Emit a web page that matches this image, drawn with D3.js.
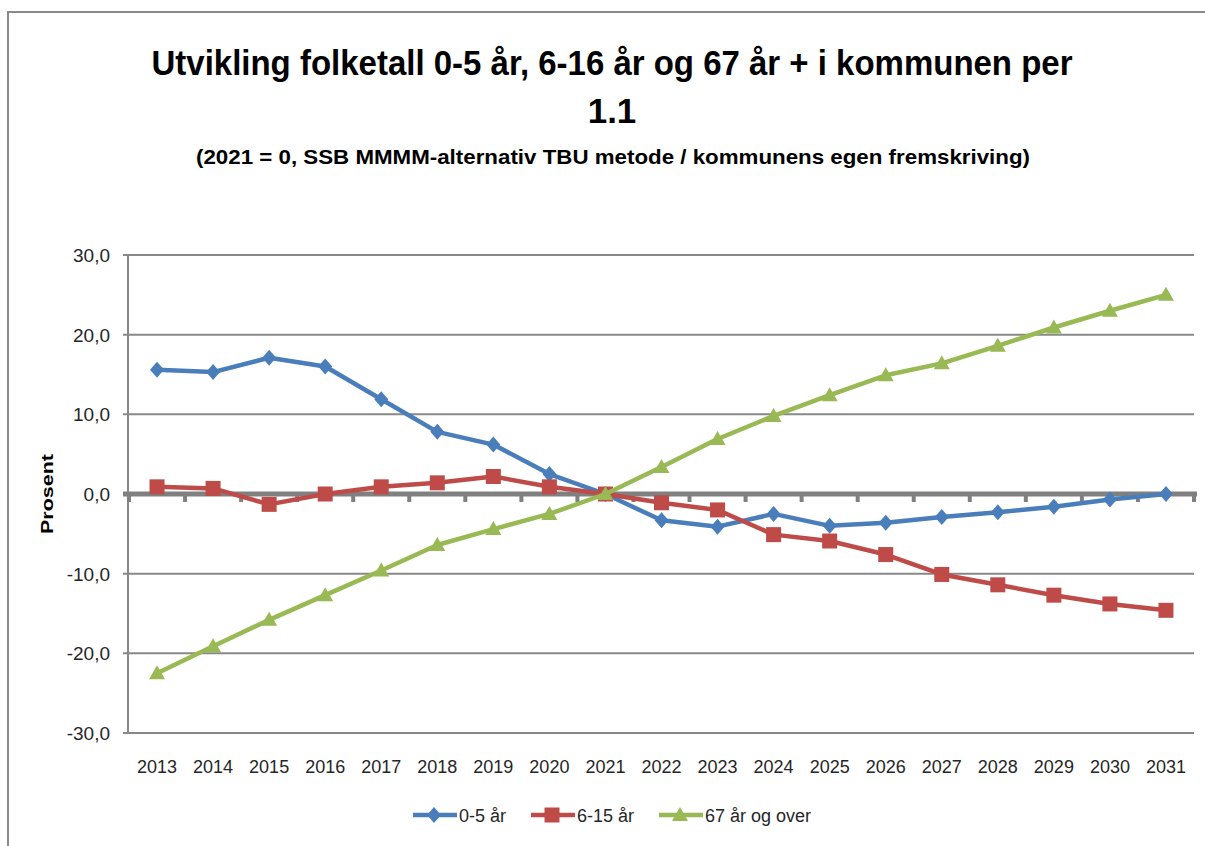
<!DOCTYPE html>
<html>
<head>
<meta charset="utf-8">
<script src="https://cdn.jsdelivr.net/npm/d3@7"></script>
<style>
  body { margin: 0; background: #fff; }
  svg { display: block; }
  text { font-family: "Liberation Sans", Arial, sans-serif; fill: #262626; }
</style>
</head>
<body>
<div id="chart"></div>
<script>
// data
var years = ["2013","2014","2015","2016","2017","2018","2019","2020","2021","2022",
             "2023","2024","2025","2026","2027","2028","2029","2030","2031"];
var age0_5 = [15.6, 15.3, 17.1, 16.0, 11.9, 7.8, 6.2, 2.5, 0.0, -3.3,
              -4.1, -2.5, -4.0, -3.6, -2.9, -2.3, -1.6, -0.7, 0.0];
var age6_15 = [0.9, 0.7, -1.3, 0.0, 0.9, 1.4, 2.2, 0.9, 0.0, -1.1,
               -2.0, -5.1, -5.9, -7.6, -10.1, -11.4, -12.7, -13.8, -14.6];
var age67 = [-22.5, -19.1, -15.8, -12.7, -9.6, -6.4, -4.4, -2.5, 0.0, 3.4,
             6.9, 9.8, 12.4, 14.9, 16.4, 18.6, 20.9, 23.0, 25.0];
var yTicks = [-30, -20, -10, 0, 10, 20, 30];

var series = [
  {name: "0-5 år", values: age0_5, color: "#4a7ebb", marker: "diamond"},
  {name: "6-15 år", values: age6_15, color: "#be4b48", marker: "square"},
  {name: "67 år og over", values: age67, color: "#98b954", marker: "triangle"}
];

var W = 1205, H = 846;
var svg = d3.select("#chart").append("svg")
    .attr("width", W)
    .attr("height", H);

// outer chart border (only top and left visible in the crop)
svg.append("path")
    .attr("d", "M8,846 L8,12 L1205,12")
    .attr("fill", "none")
    .attr("stroke", "#8a8a8a")
    .attr("stroke-width", 2);

// titles
svg.append("text")
    .attr("x", 612).attr("y", 75)
    .attr("text-anchor", "middle")
    .attr("font-family", "'Liberation Sans Narrow', 'Liberation Sans', sans-serif")
    .attr("font-weight", "bold")
    .attr("font-size", 35)
    .attr("textLength", 921)
    .attr("lengthAdjust", "spacingAndGlyphs")
    .style("fill", "#000")
    .text("Utvikling folketall 0-5 år, 6-16 år og 67 år + i kommunen per");
svg.append("text")
    .attr("x", 612).attr("y", 123)
    .attr("text-anchor", "middle")
    .attr("font-weight", "bold")
    .attr("font-size", 35)
    .style("fill", "#000")
    .text("1.1");
svg.append("text")
    .attr("x", 613).attr("y", 164)
    .attr("text-anchor", "middle")
    .attr("font-family", "'Liberation Sans Narrow', 'Liberation Sans', sans-serif")
    .attr("font-weight", "bold")
    .attr("font-size", 21)
    .attr("textLength", 834)
    .attr("lengthAdjust", "spacingAndGlyphs")
    .style("fill", "#000")
    .text("(2021 = 0, SSB MMMM-alternativ TBU metode / kommunens egen fremskriving)");

// scales
var x = d3.scalePoint()
    .domain(years)
    .range([129, 1194])
    .padding(0.5);
var y = d3.scaleLinear()
    .domain([-30, 30])
    .range([733, 255]);

var left = 129, right = 1194;
var step = x.step();

// gridlines
svg.append("g").selectAll("line")
    .data(yTicks.filter(function(d) { return d != 0; }))
  .enter().append("line")
    .attr("x1", left - 6).attr("x2", right)
    .attr("y1", function(d) { return y(d); })
    .attr("y2", function(d) { return y(d); })
    .attr("stroke", "#888")
    .attr("stroke-width", 2);

// y axis line
svg.append("line")
    .attr("x1", left - 1).attr("x2", left - 1)
    .attr("y1", y(30)).attr("y2", y(-30))
    .attr("stroke", "#888")
    .attr("stroke-width", 2);

// y tick labels (hyphen minus, comma decimal)
svg.append("g").selectAll("text")
    .data(yTicks)
  .enter().append("text")
    .attr("x", 110)
    .attr("y", function(d) { return y(d) + 7; })
    .attr("text-anchor", "end")
    .attr("font-size", 19)
    .text(function(d) { return d.toFixed(1).replace(".", ","); });

// y axis title
svg.append("text")
    .attr("transform", "translate(53," + y(0) + ") rotate(-90)")
    .attr("text-anchor", "middle")
    .attr("font-weight", "bold")
    .attr("font-size", 17)
    .attr("textLength", 80)
    .attr("lengthAdjust", "spacingAndGlyphs")
    .style("fill", "#000")
    .text("Prosent");

// zero axis (category axis crossing at 0)
var boundaries = d3.range(years.length + 1).map(function(i) { return left + i * step; });
svg.append("g").selectAll("line")
    .data(boundaries)
  .enter().append("line")
    .attr("x1", function(d) { return d; })
    .attr("x2", function(d) { return d; })
    .attr("y1", y(0))
    .attr("y2", y(0) + 8)
    .attr("stroke", "#808080")
    .attr("stroke-width", 4);
svg.append("line")
    .attr("x1", left - 6).attr("x2", right + 3)
    .attr("y1", y(0)).attr("y2", y(0))
    .attr("stroke", "#808080")
    .attr("stroke-width", 5);

// x labels
svg.append("g").selectAll("text")
    .data(years)
  .enter().append("text")
    .attr("x", function(d) { return x(d); })
    .attr("y", 773)
    .attr("text-anchor", "middle")
    .attr("font-size", 18)
    .text(function(d) { return d; });

// marker shapes
function markerPath(type) {
  if (type == "diamond") return "M0,-8 L7,0 L0,8 L-7,0 Z";
  if (type == "square") return "M-7.5,-7.5 L7.5,-7.5 L7.5,7.5 L-7.5,7.5 Z";
  return "M0,-8 L8,6 L-8,6 Z";
}

var line = d3.line()
    .x(function(d, i) { return x(years[i]); })
    .y(function(d) { return y(d); });

series.forEach(function(s) {
  var g = svg.append("g");
  g.append("path")
      .datum(s.values)
      .attr("d", line)
      .attr("fill", "none")
      .attr("stroke", s.color)
      .attr("stroke-width", 4.5)
      .attr("stroke-linejoin", "round");
  g.selectAll(".mark")
      .data(s.values)
    .enter().append("path")
      .attr("class", "mark")
      .attr("transform", function(d, i) { return "translate(" + x(years[i]) + "," + y(d) + ")"; })
      .attr("d", markerPath(s.marker))
      .attr("fill", s.color);
});

// legend
var legendPos = [413, 531, 659];
var legend = svg.append("g").selectAll("g")
    .data(series)
  .enter().append("g")
    .attr("transform", function(d, i) { return "translate(" + legendPos[i] + ",815)"; });
legend.append("line")
    .attr("x1", 0).attr("x2", 44)
    .attr("y1", 0).attr("y2", 0)
    .attr("stroke", function(d) { return d.color; })
    .attr("stroke-width", 4.5);
legend.append("path")
    .attr("transform", "translate(21,0)")
    .attr("d", function(d) { return markerPath(d.marker); })
    .attr("fill", function(d) { return d.color; });
legend.append("text")
    .attr("x", 46)
    .attr("y", 7)
    .attr("font-size", 18)
    .text(function(d) { return d.name; });
</script>
</body>
</html>
